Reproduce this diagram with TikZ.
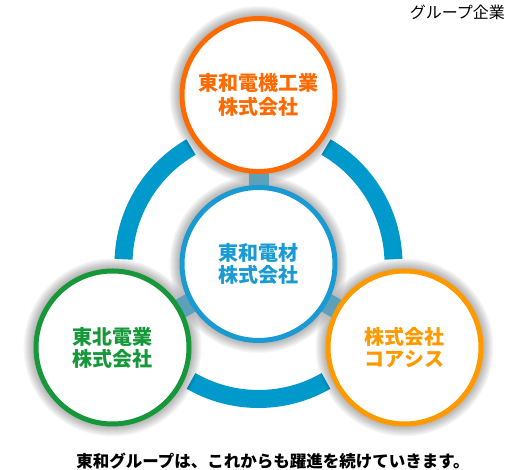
\documentclass[tikz,border=0pt]{standalone}
\usepackage{fontspec}
\newfontfamily\jp{Noto Sans CJK JP}
\pgfdeclarelayer{ringlayer}
\pgfdeclarelayer{glowlayer}
\pgfdeclarelayer{connlayer}
\pgfsetlayers{ringlayer,glowlayer,connlayer,main}
\definecolor{cOrange}{HTML}{FF6A00}
\definecolor{cBlue}{HTML}{1A9AD2}
\definecolor{cRing}{HTML}{0099CC}
\definecolor{cGreen}{HTML}{16983A}
\definecolor{cAmber}{HTML}{FF9900}
\definecolor{cConn}{HTML}{5CA0BA}
\tikzset{
  company/.style={circle, draw=#1, line width=5pt, fill=white, inner sep=0pt,
    minimum size=153pt, text=#1, align=center,
    font=\jp\bfseries\fontsize{20}{22}\selectfont},
  ringarc/.style={draw=cRing, line width=18pt},
  conn/.style={draw=cConn, line width=20pt},
}
\begin{document}
\begin{tikzpicture}[x=1pt,y=1pt]
\useasboundingbox (0,0) rectangle (530,470);
\node[company=cOrange, font=\jp\bfseries\fontsize{20}{24.5}\selectfont] (top) at (258.5,375) {東和電機工業\\株式会社};
\node[company=cBlue] (mid) at (258.5,206) {東和電材\\株式会社};
\node[company=cGreen] (left) at (112.5,122.5) {東北電業\\株式会社};
\node[company=cAmber] (right) at (404.5,122.5) {株式会社\\コアシス};
\begin{pgfonlayer}{ringlayer}
  \coordinate (rc) at (mid.center);
  \draw[ringarc] (rc) ++(2:135) arc[start angle=2, end angle=60, radius=135];
  \draw[ringarc] (rc) ++(120:135) arc[start angle=120, end angle=178, radius=135];
  \draw[ringarc] (rc) ++(240:135) arc[start angle=240, end angle=300, radius=135];
\end{pgfonlayer}
\begin{pgfonlayer}{glowlayer}
  \foreach \n in {top,mid,left,right}{
    \foreach \i in {1,...,10}{
      \fill[black, opacity=0.03] (\n.center) circle[radius=79+\i];
    }
  }
\end{pgfonlayer}
\begin{pgfonlayer}{connlayer}
  \draw[conn] (mid.center) -- (top.center);
  \draw[conn] (mid.center) -- (left.center);
  \draw[conn] (mid.center) -- (right.center);
\end{pgfonlayer}
\node[anchor=east, inner sep=0pt, font=\jp\fontsize{16}{18}\selectfont] (title) at (505,458) {グループ企業};
\node[inner sep=0pt, font=\jp\bfseries\fontsize{16.5}{20}\selectfont] (slogan) at (273,8.5) {東和グループは、これからも躍進を続けていきます。};
\end{tikzpicture}
\end{document}
